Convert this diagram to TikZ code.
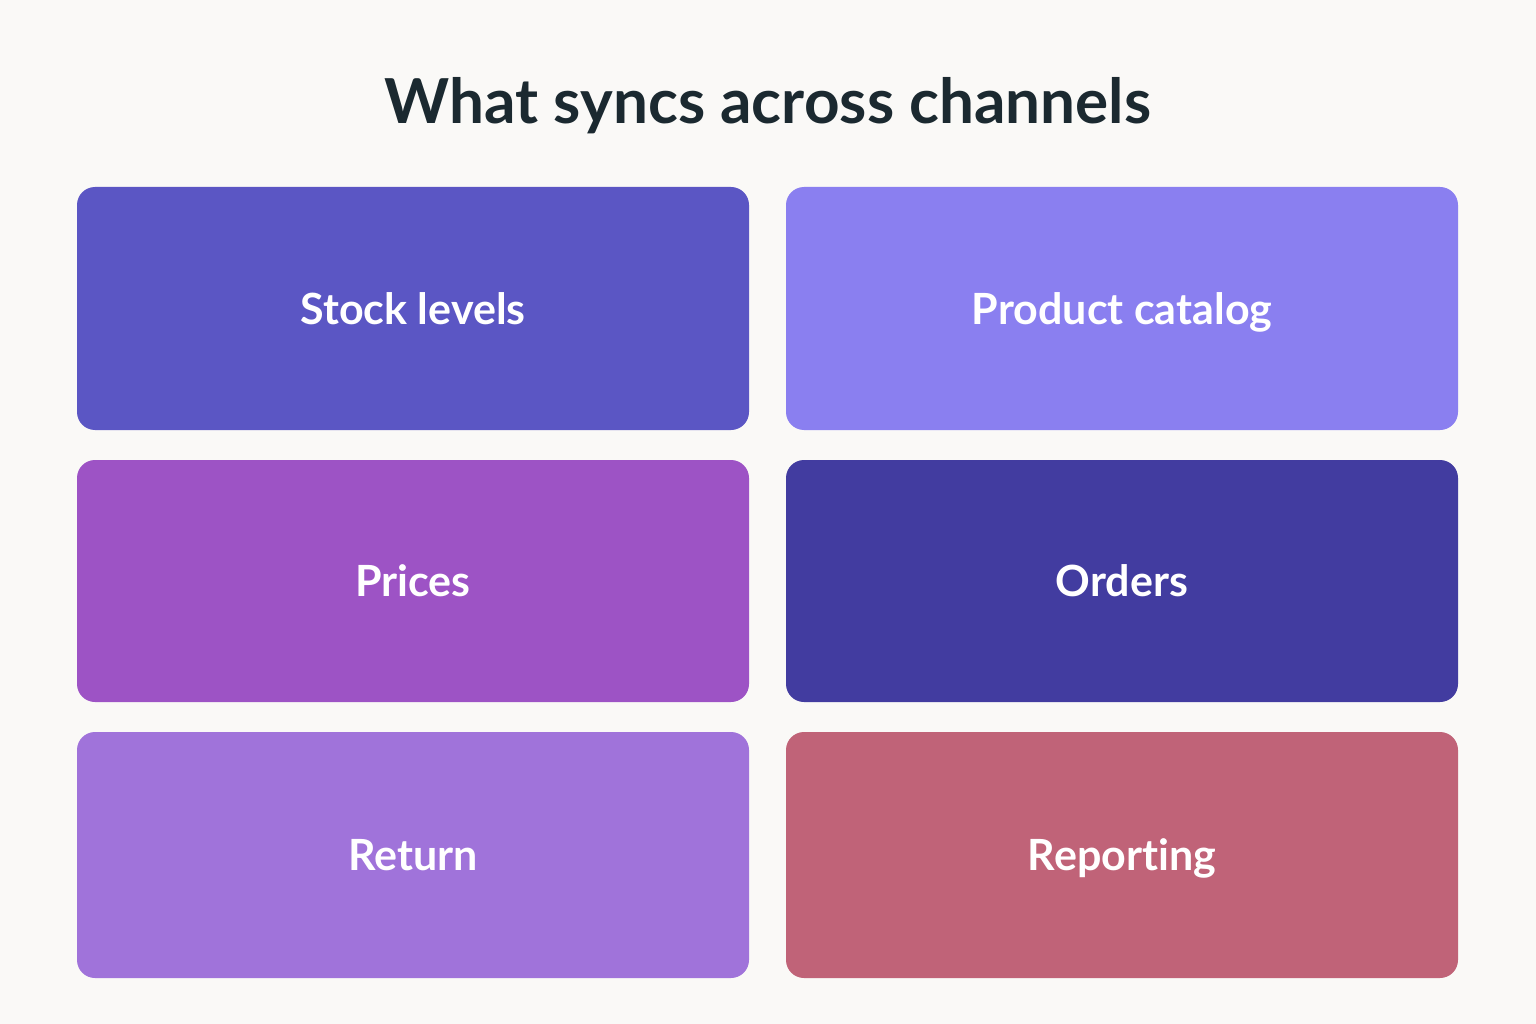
\documentclass[tikz,border=0pt]{standalone}
\usepackage{fontspec}
\setmainfont[Ligatures=NoCommon]{Lato}
\definecolor{bg}{HTML}{FAF9F7}
\definecolor{titlec}{HTML}{1B2930}
\definecolor{cStock}{HTML}{5B56C4}
\definecolor{cCat}{HTML}{8A7FF0}
\definecolor{cPrice}{HTML}{9D53C5}
\definecolor{cOrder}{HTML}{423CA0}
\definecolor{cRet}{HTML}{A073DA}
\definecolor{cRep}{HTML}{C06378}
\begin{document}
\begin{tikzpicture}[x=1pt,y=-1pt,
  card/.style={rounded corners=18pt, draw=none, minimum width=672pt, text=white,
    font=\fontsize{43}{50}\selectfont\bfseries, inner sep=0pt, text height=31pt, text depth=0pt}]
\fill[bg] (0,0) rectangle (1536,1024);
\useasboundingbox (0,0) rectangle (1536,1024);
\node[text=titlec, font=\fontsize{62}{72}\selectfont\bfseries, text height=45pt, text depth=0pt, inner sep=0pt] (title) at (768,101) {What syncs across channels};
\node[card, fill=cStock, minimum height=243pt] (stock) at (413,308.5) {Stock levels};
\node[card, fill=cCat, minimum height=243pt] (cat) at (1122,308.5) {Product catalog};
\node[card, fill=cPrice, minimum height=242pt] (price) at (413,581) {Prices};
\node[card, fill=cOrder, minimum height=242pt] (order) at (1122,581) {Orders};
\node[card, fill=cRet, minimum height=246pt] (ret) at (413,855) {Return};
\node[card, fill=cRep, minimum height=246pt] (rep) at (1122,855) {Reporting};
\end{tikzpicture}
\end{document}
